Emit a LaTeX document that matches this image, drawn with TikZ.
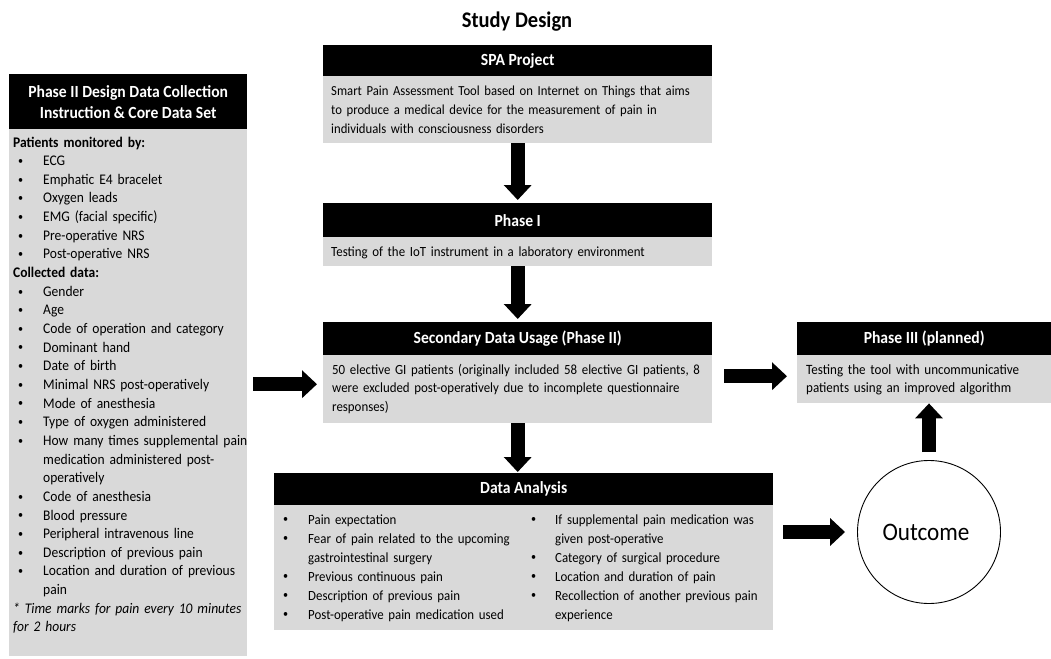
\documentclass[tikz,border=0pt]{standalone}
\usepackage{fontspec}
\setmainfont{Carlito}[FakeStretch=0.92]
\usetikzlibrary{arrows.meta}
\definecolor{boxgrey}{HTML}{D9D9D9}
\newcommand\bitem[2]{\noindent\hangindent=#1\hangafter=1\hbox to #1{\hskip#2\raisebox{1.2pt}{\fontsize{11}{11}\selectfont\textbullet}\hfil}}
\newcommand\bli[2]{\par\bitem{#1}{#2}}
\begin{document}
\begin{tikzpicture}[x=1pt,y=-1pt,
  hdr/.style={fill=black, text=white, font=\bfseries\fontsize{17}{21}\selectfont, inner sep=0, anchor=north west, align=center},
  bodybox/.style={fill=boxgrey, inner sep=0, anchor=north west},
  txt/.style={inner sep=0, anchor=base west, align=left, font=\fontsize{14.4}{18.7}\selectfont},
  bigarrow/.style={line width=14pt, -{Triangle[width=27pt,length=15pt]}},
]
\useasboundingbox (0,0) rectangle (1051,658);

\node[font=\bfseries\fontsize{22.3}{26}\selectfont, inner sep=0] (title) at (517,22) {Study Design};

% SPA project
\node[hdr, minimum width=389, minimum height=31] (spahdr) at (323,45) {SPA Project};
\node[bodybox, minimum width=389, minimum height=67] (spabody) at (323,76) {};
\node[txt, text width=420, font=\fontsize{13.8}{18.6}\selectfont] (spatxt) at (331,96) {Smart Pain Assessment Tool based on Internet on Things that aims\break to produce a medical device for the measurement of pain in\break individuals with consciousness disorders};

% Phase I
\node[hdr, minimum width=389, minimum height=34] (p1hdr) at (323,203) {Phase I};
\node[bodybox, minimum width=389, minimum height=29] (p1body) at (323,237) {};
\node[txt, text width=420, font=\fontsize{14}{18.6}\selectfont] (p1txt) at (331,256) {Testing of the IoT instrument in a laboratory environment};

% Secondary
\node[hdr, minimum width=389, minimum height=33] (sechdr) at (323,322) {Secondary Data Usage (Phase II)};
\node[bodybox, minimum width=389, minimum height=68] (secbody) at (323,355) {};
\node[txt, text width=420, font=\fontsize{14}{18.7}\selectfont] (sectxt) at (332,374) {50 elective GI patients (originally included 58 elective GI patients, 8\break were excluded post-operatively due to incomplete questionnaire\break responses)};

% Data analysis
\node[hdr, minimum width=499, minimum height=32] (dahdr) at (274,473) {Data Analysis};
\node[bodybox, minimum width=499, minimum height=125] (dabody) at (274,505) {};
\node[txt, text width=270, font=\fontsize{14}{19}\selectfont] (daleft) at (283,524) {%
\bitem{25pt}{0pt}Pain expectation
\bli{25pt}{0pt}Fear of pain related to the upcoming\break gastrointestinal surgery
\bli{25pt}{0pt}Previous continuous pain
\bli{25pt}{0pt}Description of previous pain
\bli{25pt}{0pt}Post-operative pain medication used\par};
\node[txt, text width=270, font=\fontsize{14}{19}\selectfont] (daright) at (531,524) {%
\bitem{24pt}{0pt}If supplemental pain medication was\break given post-operative
\bli{24pt}{0pt}Category of surgical procedure
\bli{24pt}{0pt}Location and duration of pain
\bli{24pt}{0pt}Recollection of another previous pain\break experience\par};

% Phase III
\node[hdr, minimum width=254, minimum height=33] (p3hdr) at (797,322) {Phase III (planned)};
\node[bodybox, minimum width=254, minimum height=48] (p3body) at (797,355) {};
\node[txt, text width=270, font=\fontsize{14.2}{18.6}\selectfont] (p3txt) at (806,374) {Testing the tool with uncommunicative\break patients using an improved algorithm};

% Left panel
\node[hdr, minimum width=238, minimum height=55] (lhdr) at (9,74) {Phase II Design Data Collection\\Instruction \& Core Data Set};
\node[bodybox, minimum width=238, minimum height=527] (lbody) at (9,129) {};
\node[txt, text width=270, font=\fontsize{14.7}{18.65}\selectfont] (ltxt) at (13,147) {%
\noindent\textbf{Patients monitored by:}
\bli{30pt}{5pt}ECG
\bli{30pt}{5pt}Emphatic E4 bracelet
\bli{30pt}{5pt}Oxygen leads
\bli{30pt}{5pt}EMG (facial specific)
\bli{30pt}{5pt}Pre-operative NRS
\bli{30pt}{5pt}Post-operative NRS
\par\noindent\textbf{Collected data:}
\bli{30pt}{5pt}Gender
\bli{30pt}{5pt}Age
\bli{30pt}{5pt}Code of operation and category
\bli{30pt}{5pt}Dominant hand
\bli{30pt}{5pt}Date of birth
\bli{30pt}{5pt}Minimal NRS post-operatively
\bli{30pt}{5pt}Mode of anesthesia
\bli{30pt}{5pt}Type of oxygen administered
\bli{30pt}{5pt}How many times supplemental pain\break medication administered post-\break operatively
\bli{30pt}{5pt}Code of anesthesia
\bli{30pt}{5pt}Blood pressure
\bli{30pt}{5pt}Peripheral intravenous line
\bli{30pt}{5pt}Description of previous pain
\bli{30pt}{5pt}Location and duration of previous\break pain
\par\noindent\textit{* Time marks for pain every 10 minutes\break for 2 hours}\par};

% Outcome
\node[draw, circle, line width=0.9pt, minimum size=143, inner sep=0, font=\fontsize{25.2}{28}\selectfont] (out) at (929,532) {\hspace*{-6pt}Outcome};

% connector end points
\coordinate (secin) at ([yshift=5pt]secbody.west);
\coordinate (p3in) at ([yshift=3pt]p3body.west);

% arrows
\draw[bigarrow, shorten >=3pt] (spabody.south) -- (p1hdr.north);
\draw[bigarrow, shorten >=3pt] (p1body.south) -- (sechdr.north);
\draw[bigarrow, shorten >=1pt] (secbody.south) -- (secbody.south |- dahdr.north);
\draw[bigarrow, shorten <=6pt, shorten >=6pt] (lbody.east |- secin) -- (secin);
\draw[bigarrow, shorten <=12pt, shorten >=10pt] (secbody.east |- p3in) -- (p3in);
\draw[bigarrow, shorten <=10pt, shorten >=12pt] (dabody.east |- out.west) -- (out.west);
\draw[bigarrow, shorten <=8pt] (out.north) -- (out.north |- p3body.south);
\end{tikzpicture}
\end{document}
